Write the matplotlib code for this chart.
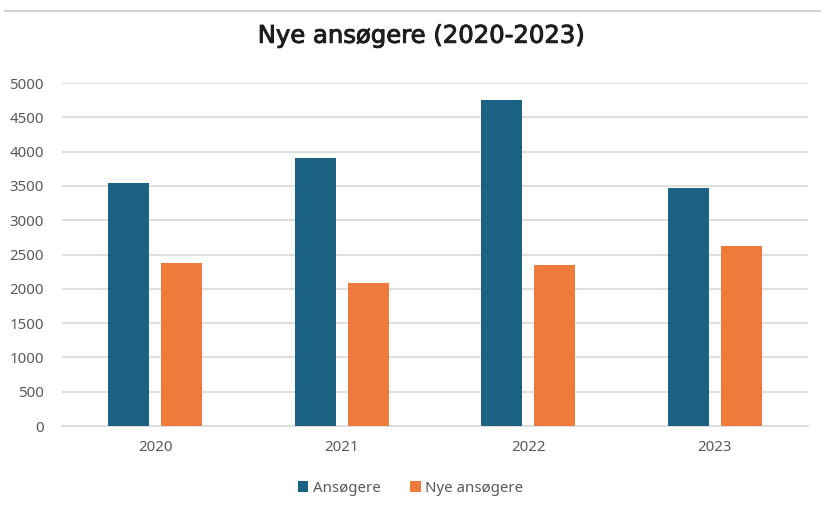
import numpy as np
import matplotlib
matplotlib.use("Agg")
import matplotlib.pyplot as plt
import matplotlib.patheffects as pe
from matplotlib.lines import Line2D

years = ["2020", "2021", "2022", "2023"]
ansogere = [3544, 3913, 4754, 3466]
nye_ansogere = [2383, 2088, 2354, 2622]

blue = "#1C6283"
orange = "#EE7A3B"
grid_col = "#D9D9D9"
text_col = "#595959"

plt.rcParams["font.family"] = ["Noto Sans", "DejaVu Sans"]

fig = plt.figure(figsize=(8.21, 5.11), dpi=100)
ax = fig.add_axes([0.0755, 0.1663, 0.9086, 0.6712])

x = np.arange(len(years))
w = 0.22
off = 0.142
ax.bar(x - off, ansogere, w, color=blue, label="Ansøgere", zorder=3)
ax.bar(x + off, nye_ansogere, w, color=orange, label="Nye ansøgere", zorder=3)

ax.set_xlim(-0.5, 3.5)
ax.set_ylim(0, 5000)
ax.set_yticks(np.arange(0, 5001, 500))
ax.set_xticks(x)
ax.set_xticklabels(years)
ax.yaxis.grid(True, color=grid_col, linewidth=1.2, zorder=0)
ax.set_axisbelow(True)
for s in ["top", "right", "left"]:
    ax.spines[s].set_visible(False)
ax.spines["bottom"].set_color(grid_col)
ax.spines["bottom"].set_linewidth(1.2)
ax.tick_params(axis="both", length=0, colors=text_col, labelsize=10.8)
ax.tick_params(axis="y", pad=13)
ax.tick_params(axis="x", pad=10)

t = fig.text(0.513, 0.93, "Nye ansøgere (2020-2023)", ha="center", va="center",
             fontsize=17.5, color="#1E1E1E", family=["DejaVu Sans"])
t.set_path_effects([pe.withStroke(linewidth=0.7, foreground="#1E1E1E")])

# top border line
fig.add_artist(Line2D([0.006, 1.0], [0.978, 0.978], color="#D0D0D0", linewidth=1.5,
                      transform=fig.transFigure))

fig.legend(loc="center", bbox_to_anchor=(0.5, 0.045), ncol=2, frameon=False,
           fontsize=10.8, handlelength=0.7, handleheight=0.7, handletextpad=0.3,
           columnspacing=2.0, labelcolor=text_col)

fig.savefig("out.png", dpi=100)
